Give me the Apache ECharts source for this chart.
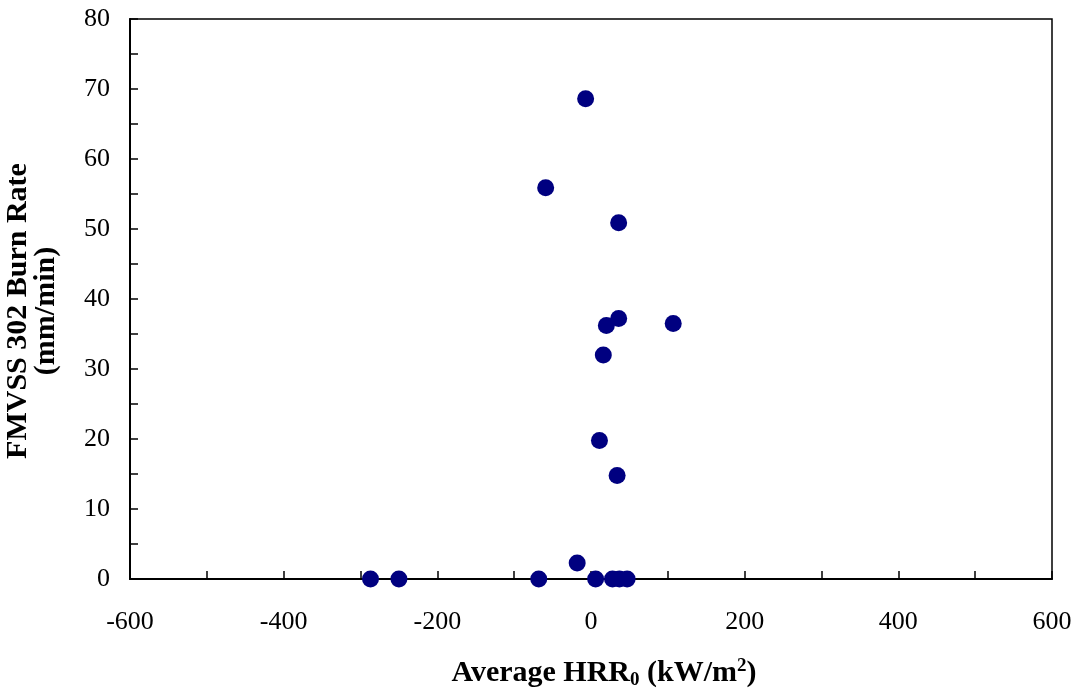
<!DOCTYPE html>
<html>
<head>
<meta charset="utf-8">
<script src="https://cdn.jsdelivr.net/npm/echarts@6/dist/echarts.min.js"></script>
<style>
  html, body { margin: 0; padding: 0; background: #fff; }
</style>
</head>
<body>
<div id="myChart" style="width:1075px;height:692px"></div>
<script>
// average HRR0 (kW/m2) and FMVSS 302 burn rate (mm/min)
var hrr = [-287, -250, -68, -18, 6, 28, 37, 47, -7, -59, 36, 36, 20, 107, 16, 11, 34]
var burnRate = [0, 0, 0, 2.3, 0, 0, 0, 0, 68.6, 55.9, 50.9, 37.2, 36.2, 36.5, 32, 19.8, 14.8]

var xTicks = { min: -600, max: 600, interval: 200 }
var yTicks = { min: 0, max: 80, interval: 10 }

var points = hrr.map(function (x, i) { return [x, burnRate[i]] })

var myChart = echarts.init(document.getElementById('myChart'))

var font = '"Liberation Serif", "Times New Roman", serif'
var axisLine = { show: true, onZero: false, lineStyle: { color: '#000', width: 2 } }

myChart.setOption({
  animation: false,
  backgroundColor: '#fff',
  grid: {
    left: 130, right: 23, top: 19, bottom: 113,
    containLabel: false,
    outerBoundsMode: 'none',
    show: true, borderColor: '#000', borderWidth: 1.5
  },
  xAxis: {
    type: 'value',
    min: xTicks.min, max: xTicks.max, interval: xTicks.interval,
    axisLine: axisLine,
    axisTick: { inside: true, length: 8, lineStyle: { color: '#000', width: 1.5 } },
    minorTick: { show: true, splitNumber: 2, length: 8, lineStyle: { color: '#000', width: 1.5 } },
    splitLine: { show: false },
    axisLabel: { color: '#000', fontFamily: font, fontSize: 26, margin: 30 },
    name: '{b|Average HRR}{sub|0}{b| (kW/m}{sup|2}{b|)}',
    nameLocation: 'middle',
    nameGap: 78,
    nameTextStyle: {
      padding: [0, 0, 0, 26],
      rich: {
        b: { fontFamily: font, fontWeight: 'bold', fontSize: 30, color: '#000' },
        sub: { fontFamily: font, fontWeight: 'bold', fontSize: 19, color: '#000', padding: [14, 0, 0, 0] },
        sup: { fontFamily: font, fontWeight: 'bold', fontSize: 19, color: '#000', padding: [0, 0, 14, 0] }
      }
    }
  },
  yAxis: {
    type: 'value',
    min: yTicks.min, max: yTicks.max, interval: yTicks.interval,
    axisLine: axisLine,
    axisTick: { inside: true, length: 8, lineStyle: { color: '#000', width: 1.5 } },
    minorTick: { show: true, splitNumber: 2, length: 8, lineStyle: { color: '#000', width: 1.5 } },
    splitLine: { show: false },
    axisLabel: { color: '#000', fontFamily: font, fontSize: 26, margin: 20 },
    name: 'FMVSS 302 Burn Rate\n(mm/min)',
    nameLocation: 'middle',
    nameGap: 70,
    nameTextStyle: {
      color: '#000', fontFamily: font, fontWeight: 'bold', fontSize: 30,
      lineHeight: 28, padding: [0, 24, 0, 0]
    }
  },
  series: [{
    type: 'scatter',
    data: points,
    symbol: 'circle',
    symbolSize: 17,
    itemStyle: { color: '#000080', opacity: 1 }
  }]
})
</script>
</body>
</html>
